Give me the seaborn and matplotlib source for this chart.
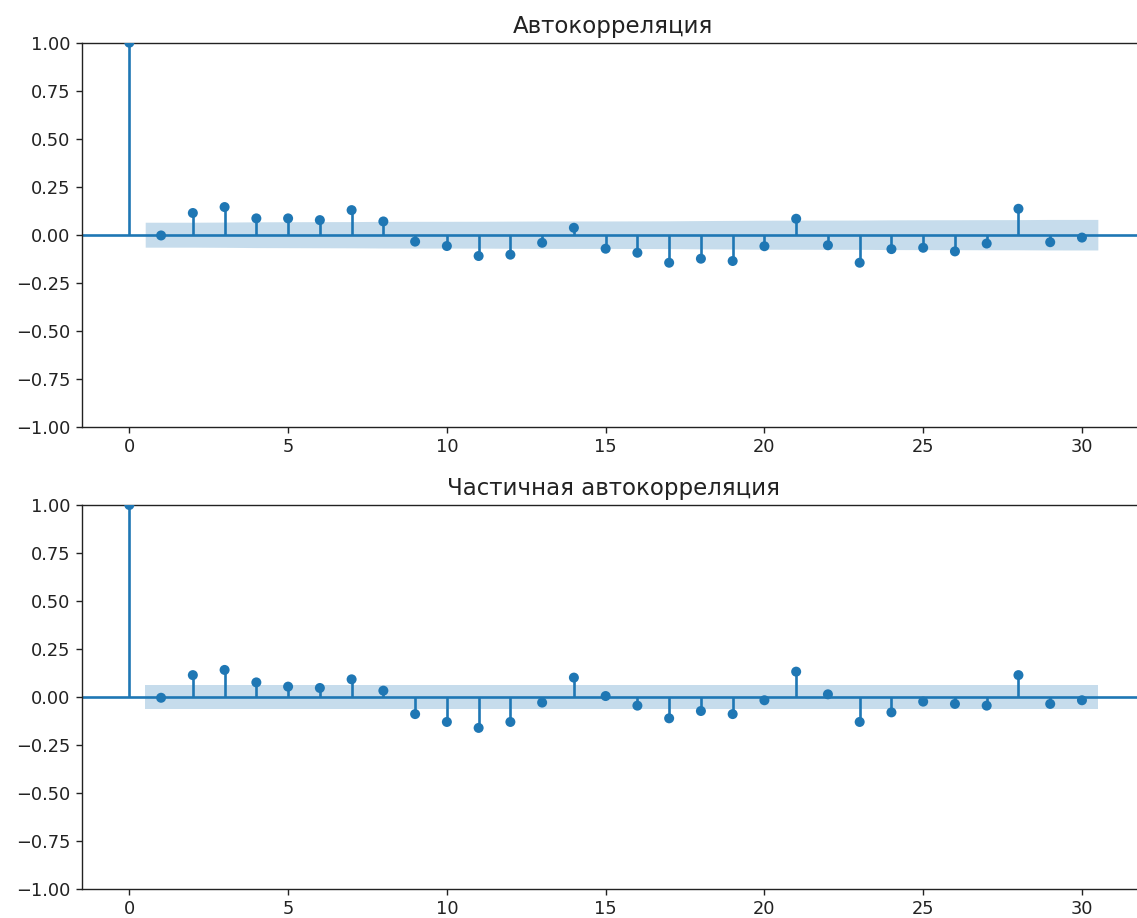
import numpy as np
import pandas as pd
import matplotlib
matplotlib.use("Agg")
import matplotlib.pyplot as plt
import seaborn as sns

lags = list(range(0, 31))
acf_values = [1.0, -0.004, 0.113, 0.144, 0.085, 0.085, 0.076, 0.128, 0.069, -0.036,
              -0.059, -0.111, -0.104, -0.042, 0.036, -0.073, -0.094, -0.146, -0.125,
              -0.137, -0.060, 0.083, -0.055, -0.146, -0.075, -0.068, -0.087, -0.046,
              0.135, -0.039, -0.015]
pacf_values = [1.0, -0.004, 0.114, 0.141, 0.076, 0.054, 0.047, 0.092, 0.033, -0.089,
               -0.130, -0.161, -0.130, -0.029, 0.101, 0.005, -0.045, -0.111, -0.073,
               -0.089, -0.017, 0.132, 0.014, -0.130, -0.080, -0.024, -0.036, -0.045,
               0.114, -0.036, -0.017]
n_obs = 909
titles = ["Автокорреляция", "Частичная автокорреляция"]

plt.rcParams['font.family'] = ['DejaVu Sans']

W, H = 1137, 918
fig = plt.figure(figsize=(W / 100, H / 100), dpi=100)

left_px, right_px = 81.7, 1145
ax_h_px = 384
tops_px = [42.7, 505]

color = "#1f77b4"


def band_halfwidths(values, bartlett):
    vals = np.asarray(values)
    var = np.ones(len(vals)) / n_obs
    if bartlett:
        var[0] = 0
        var[2:] *= 1 + 2 * np.cumsum(vals[1:-1] ** 2)
    return 1.959964 * np.sqrt(var)


for i, (vals, title) in enumerate(zip([acf_values, pacf_values], titles)):
    top = tops_px[i]
    ax = fig.add_axes([left_px / W, (H - top - ax_h_px) / H,
                       (right_px - left_px) / W, ax_h_px / H])
    df = pd.DataFrame({"lag": lags, "value": vals})
    ax.vlines(df["lag"], 0, df["value"], color=color, lw=1.9, zorder=2)
    ax.axhline(0, color=color, lw=1.9, zorder=2)
    sns.scatterplot(data=df, x="lag", y="value", ax=ax, color=color, s=52,
                    edgecolor="none", linewidth=0, zorder=3, legend=False)
    hw = band_halfwidths(vals, bartlett=(i == 0))
    bx = np.array(lags[1:], dtype=float)
    bx[0] -= 0.5
    bx[-1] += 0.5
    ax.fill_between(bx, -hw[1:], hw[1:], color=color, alpha=0.25, lw=0, zorder=1)
    ax.set_xlim(-1.5, 31.5 + (right_px - 1129.6) / 31.73)
    ax.set_ylim(-1, 1)
    ticks = np.arange(-1, 1.01, 0.25)
    ax.set_yticks(ticks)
    ax.set_yticklabels([f"{t:.2f}".replace("-", "\u2212") for t in ticks])
    ax.set_xticks(range(0, 31, 5))
    ax.set_xlabel("")
    ax.set_ylabel("")
    ax.tick_params(labelsize=12.8, length=4.5, width=1.0, colors="#222222")
    for sp in ax.spines.values():
        sp.set_linewidth(1.0)
        sp.set_color("#222222")
    ax.set_title(title, fontsize=16.5, pad=7, color="#222222")

fig.savefig("out.png", dpi=100)
